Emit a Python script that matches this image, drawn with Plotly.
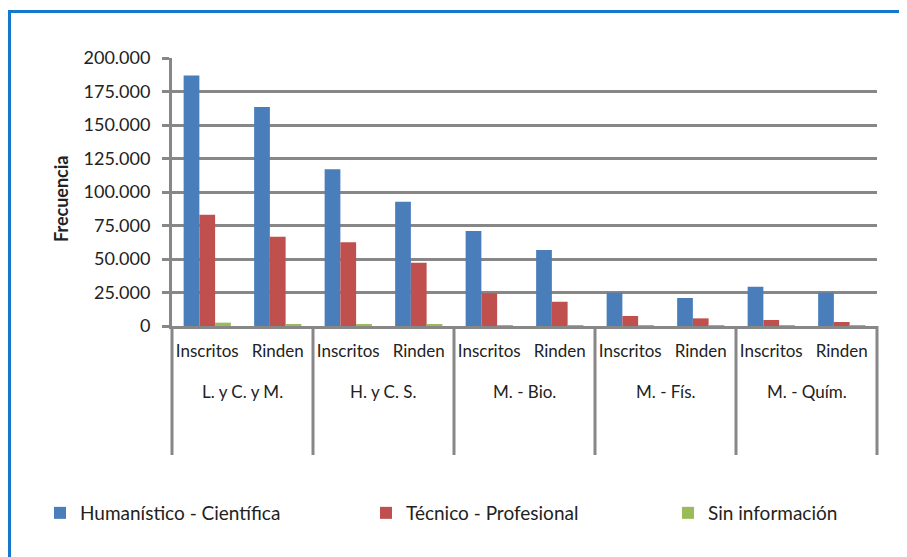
import plotly.graph_objects as go

# Datos
grupos = ["L. y C. y M.", "H. y C. S.", "M. - Bio.", "M. - Fís.", "M. - Quím."]
subcats = ["Inscritos", "Rinden"]

humanistico = [187000, 163500, 117000, 92800, 70900, 56700, 24900, 20900, 29300, 24900]
tecnico = [83000, 66600, 62500, 47200, 24400, 18100, 7500, 5700, 4500, 3000]
sin_info = [2500, 1000, 1000, 800, 700, 600, 400, 300, 500, 400]

series = [
    ("Humanístico - Científica", humanistico, "#4A7EBB", "legend"),
    ("Técnico - Profesional", tecnico, "#C0504D", "legend2"),
    ("Sin información", sin_info, "#9BBB59", "legend3"),
]

# categorias unicas para el eje x
cat_ids = [f"{g}|{s}" for g in grupos for s in subcats]
cat_text = [s for g in grupos for s in subcats]

FONT = "Lato"
GRIS = "#878787"
AZUL_BORDE = "#1479CC"

# la pagina deja 8px de margen al cuerpo, se compensa aqui
OFF = 8
W, H = 907 - OFF, 557 - OFF
L, R, T, B = 172 - OFF, 30, 58 - OFF, 231
pw, ph = W - L - R, H - T - B


def px_x(x):
    # x en pixeles de pantalla -> coordenada paper
    return (x - OFF - L) / pw


def px_y(y):
    return (H - B - (y - OFF)) / ph


fig = go.Figure()

for nombre, vals, color, leg in series:
    fig.add_trace(go.Bar(
        x=cat_ids,
        y=vals,
        name=nombre,
        marker=dict(color=color, line=dict(width=0)),
        legend=leg,
    ))

# divisores del eje de categorias
n = len(cat_ids)
shapes = []
for i in range(len(grupos) + 1):
    xp = i * len(subcats) / n
    shapes.append(dict(type="line", xref="paper", yref="paper",
                       x0=xp, x1=xp, y0=0, y1=px_y(455),
                       line=dict(color=GRIS, width=3)))

# borde azul del grafico (solo se ven el lado izquierdo y el superior)
shapes.append(dict(type="line", xref="paper", yref="paper",
                   x0=px_x(9.5), x1=px_x(9.5), y0=px_y(10), y1=px_y(600),
                   line=dict(color=AZUL_BORDE, width=3), layer="below"))
shapes.append(dict(type="line", xref="paper", yref="paper",
                   x0=px_x(8), x1=px_x(950), y0=px_y(11.5), y1=px_y(11.5),
                   line=dict(color=AZUL_BORDE, width=3), layer="below"))

# etiquetas de grupo
annotations = []
for i, g in enumerate(grupos):
    annotations.append(dict(x=i * 2 + 0.5, y=px_y(391), xref="x", yref="paper",
                            text=g, showarrow=False, yanchor="middle",
                            font=dict(family=FONT, size=17, color="#222")))

annotations.append(dict(x=px_x(48), y=px_y(199), xref="paper", yref="paper",
                        text="<b>Frecuencia</b>", textangle=-90, showarrow=False,
                        font=dict(family=FONT, size=18, color="#222")))

leg_common = dict(orientation="h", yanchor="middle", xanchor="left",
                  y=px_y(513), bgcolor="rgba(0,0,0,0)",
                  font=dict(family=FONT, size=19, color="#222"))

fig.update_layout(
    width=W, height=H,
    margin=dict(l=L, r=R, t=T, b=B, pad=0),
    paper_bgcolor="white",
    plot_bgcolor="white",
    barmode="group",
    bargap=0.33,
    bargroupgap=0,
    separators=",.",
    font=dict(family=FONT, size=17, color="#222"),
    showlegend=True,
    legend=dict(x=px_x(40), **leg_common),
    legend2=dict(x=px_x(366), **leg_common),
    legend3=dict(x=px_x(668), **leg_common),
    xaxis=dict(
        type="category",
        tickvals=cat_ids,
        ticktext=cat_text,
        showgrid=False,
        showline=True, linecolor=GRIS, linewidth=3,
        ticks="",
        ticklabelstandoff=8,
        tickfont=dict(family=FONT, size=17, color="#222"),
    ),
    yaxis=dict(
        range=[0, 200000],
        dtick=25000,
        tickformat=",d",
        showgrid=True, gridcolor=GRIS, gridwidth=3,
        showline=True, linecolor=GRIS, linewidth=3,
        ticks="outside", ticklen=7, tickwidth=3, tickcolor=GRIS,
        zeroline=False,
        ticklabelstandoff=8,
        tickfont=dict(family=FONT, size=18, color="#222"),
    ),
    shapes=shapes,
    annotations=annotations,
)

fig.write_html("out.html")
